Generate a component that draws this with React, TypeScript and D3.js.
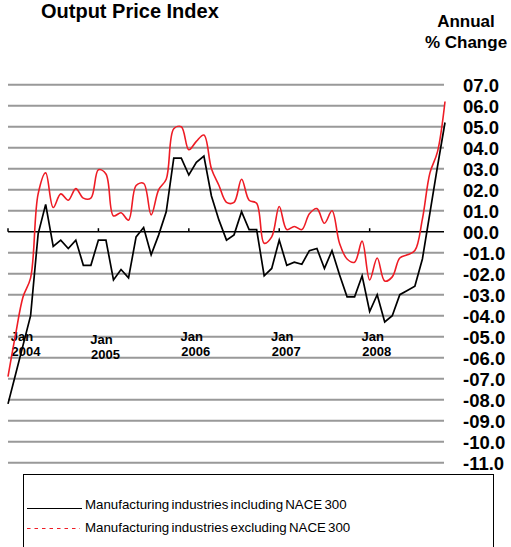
import React, { useEffect, useRef } from 'react';
import * as d3 from 'd3';

// monthly index, Jan 2004 .. Nov 2008
const including = [
  -8.2, -6.8, -5.4, -4.0, -0.1, 1.3, -0.7, -0.4, -0.8, -0.4, -1.6, -1.6,
  -0.4, -0.4, -2.3, -1.8, -2.2, -0.25, 0.2, -1.1, -0.15, 0.95, 3.5, 3.5,
  2.7, 3.3, 3.6, 1.7, 0.55, -0.4, -0.15, 0.95, 0.1, 0.1, -2.1, -1.75,
  -0.4, -1.6, -1.45, -1.55, -0.9, -0.8, -1.75, -0.9, -2.05, -3.1, -3.1, -2.1,
  -3.8, -3.0, -4.3, -4.0, -3.0, -2.8, -2.6, -1.3, 0.9, 3.1, 5.2,
];
const excluding = [
  -6.9, -4.9, -3.1, -2.2, 1.8, 2.8, 1.15, 1.8, 1.5, 2.05, 1.6, 1.6,
  2.95, 2.75, 0.75, 0.9, 0.55, 2.2, 2.3, 0.8, 2.0, 2.5, 4.9, 5.0,
  3.9, 4.3, 4.6, 3.0, 2.2, 1.4, 1.4, 2.5, 1.5, 1.35, -0.55, -0.25,
  1.2, 0.1, 0.25, 0.1, 0.85, 1.1, 0.4, 1.0, -0.55, -1.3, -1.45, -0.45,
  -2.3, -1.25, -2.35, -2.15, -1.25, -1.1, -0.9, 0.6, 2.8, 3.8, 6.2,
];
const yearTickIndex = [0, 12, 24, 36, 48];
const yearLabels = ['2004', '2005', '2006', '2007', '2008'];
const yTickValues = [7, 6, 5, 4, 3, 2, 1, 0, -1, -2, -3, -4, -5, -6, -7, -8, -9, -10, -11];
const yTickLabels = ['07.0', '06.0', '05.0', '04.0', '03.0', '02.0', '01.0', '00.0', '-01.0', '-02.0',
  '-03.0', '-04.0', '-05.0', '-06.0', '-07.0', '-08.0', '-09.0', '-10.0', '-11.0'];
const legendLabels = [
  'Manufacturing industries including NACE 300',
  'Manufacturing industries excluding NACE 300',
];

const FONT = 'Liberation Sans, Arial, Helvetica, sans-serif';

const App = () => {
  const svgRef = useRef(null);

  useEffect(() => {
    const svg = d3.select(svgRef.current);
    svg.selectAll('*').remove();

    const left = 8, right = 445;
    const x = d3.scaleLinear().domain([0, including.length - 1]).range([left, right]);
    const y = d3.scaleLinear().domain([-11, 7]).range([462.7, 84.7]);

    // title
    svg.append('text')
      .attr('x', 41).attr('y', 18)
      .attr('font-family', FONT).attr('font-weight', 'bold').attr('font-size', 20)
      .text('Output Price Index');

    svg.append('text')
      .attr('x', 466).attr('y', 27)
      .attr('text-anchor', 'middle')
      .attr('font-family', FONT).attr('font-weight', 'bold').attr('font-size', 17)
      .text('Annual');
    svg.append('text')
      .attr('x', 466).attr('y', 48)
      .attr('text-anchor', 'middle')
      .attr('font-family', FONT).attr('font-weight', 'bold').attr('font-size', 17)
      .text('% Change');

    // gridlines
    svg.append('g')
      .selectAll('line')
      .data(yTickValues.filter(v => v !== 0))
      .enter()
      .append('line')
      .attr('x1', left).attr('x2', right - 1)
      .attr('y1', d => y(d)).attr('y2', d => y(d))
      .attr('stroke', '#999').attr('stroke-width', 2);

    // right-hand value labels
    svg.append('g')
      .selectAll('text')
      .data(yTickValues)
      .enter()
      .append('text')
      .attr('x', 463)
      .attr('y', d => y(d) + 7)
      .attr('font-family', FONT).attr('font-weight', 'bold').attr('font-size', 18.5)
      .text((d, i) => yTickLabels[i]);

    // zero axis with year ticks
    svg.append('line')
      .attr('x1', left).attr('x2', right - 1)
      .attr('y1', y(0)).attr('y2', y(0))
      .attr('stroke', '#000').attr('stroke-width', 1.5);
    svg.append('g')
      .selectAll('line')
      .data(yearTickIndex)
      .enter()
      .append('line')
      .attr('x1', d => x(d)).attr('x2', d => x(d))
      .attr('y1', y(0) - 3.5).attr('y2', y(0))
      .attr('stroke', '#000').attr('stroke-width', 1.5);

    // year labels
    const lbl = svg.append('g')
      .attr('font-family', FONT).attr('font-weight', 'bold').attr('font-size', 13)
      .attr('text-anchor', 'middle');
    yearTickIndex.forEach((d, i) => {
      const cx = Math.max(x(d) + 7, left + 18);
      const dy = i === 1 ? 3 : 0;
      lbl.append('text').attr('x', cx - 4).attr('y', 341 + dy).text('Jan');
      lbl.append('text').attr('x', cx).attr('y', 356 + dy).text(yearLabels[i]);
    });

    // series
    const blackLine = d3.line<number>()
      .x((d, i) => x(i))
      .y(d => y(d));
    const redLine = d3.line<number>()
      .x((d, i) => x(i))
      .y(d => y(d))
      .curve(d3.curveCatmullRom.alpha(0.5));

    svg.append('path')
      .attr('d', redLine(excluding))
      .attr('fill', 'none')
      .attr('stroke', '#ee1c25')
      .attr('stroke-width', 1.6);
    svg.append('path')
      .attr('d', blackLine(including))
      .attr('fill', 'none')
      .attr('stroke', '#000')
      .attr('stroke-width', 1.7)
      .attr('stroke-linejoin', 'miter');

    // legend
    svg.append('rect')
      .attr('x', 23.5).attr('y', 474.5)
      .attr('width', 470).attr('height', 100)
      .attr('fill', 'none').attr('stroke', '#000').attr('stroke-width', 1);
    svg.append('line')
      .attr('x1', 27).attr('x2', 82).attr('y1', 508.5).attr('y2', 508.5)
      .attr('stroke', '#000').attr('stroke-width', 1);
    svg.append('line')
      .attr('x1', 27).attr('x2', 80).attr('y1', 528.5).attr('y2', 528.5)
      .attr('stroke', '#ee1c25').attr('stroke-width', 1)
      .attr('stroke-dasharray', '3.5,4');
    svg.append('g')
      .selectAll('text')
      .data(legendLabels)
      .enter()
      .append('text')
      .attr('x', 85)
      .attr('y', (d, i) => 509 + i * 23)
      .attr('font-family', FONT).attr('font-size', 13.3)
      .attr('word-spacing', -1.5)
      .text(d => d);
  }, []);

  return (
    <svg ref={svgRef} width={511} height={547}
      style={{ position: 'absolute', left: 0, top: 0, background: '#fff' }}></svg>
  );
};

export default App;
